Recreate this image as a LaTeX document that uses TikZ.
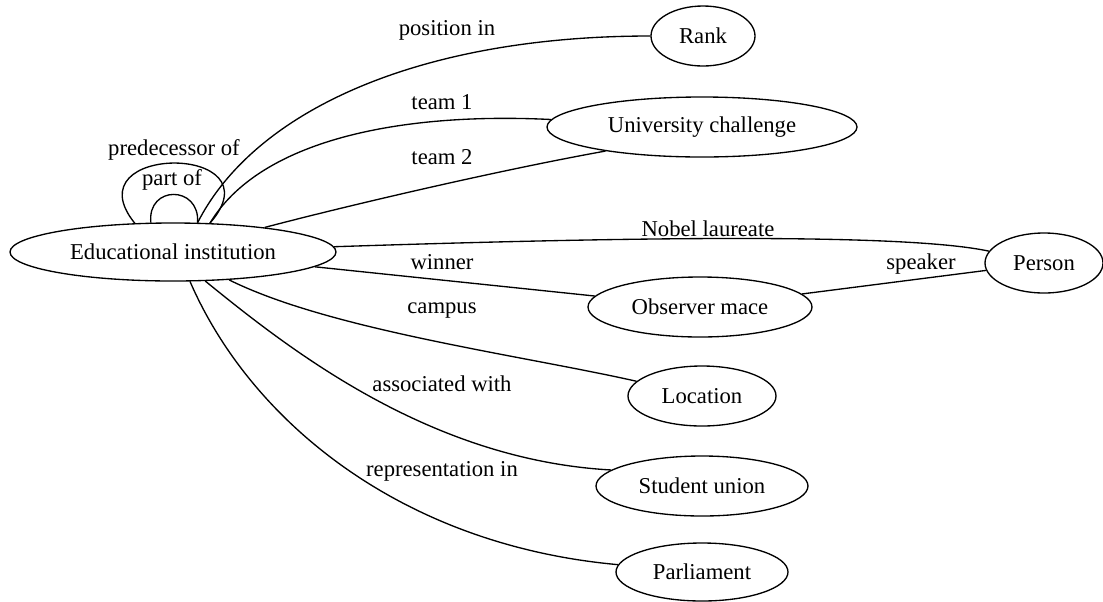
\documentclass[tikz,border=0pt]{standalone}
\usepackage{fontspec}
\setmainfont{Liberation Serif}
\usetikzlibrary{shapes.geometric}

\begin{document}
\begin{tikzpicture}[x=0.75pt, y=-0.75pt, line width=1pt,
        ent/.style={draw, ellipse, inner sep=0pt, font=\fontsize{17}{20}\selectfont},
        lbl/.style={font=\fontsize{17}{20}\selectfont, inner sep=1pt}]
        \useasboundingbox (0,0) rectangle (1103,601);
        
        % === Entita ===
        \node[ent, minimum width=244.5pt, minimum height=43.5pt] (edu) at (173,252) {Educational institution};
        \node[ent, minimum width=78pt, minimum height=45pt] (rank) at (703,36) {Rank};
        \node[ent, minimum width=232.5pt, minimum height=45pt] (uc) at (702,127) {University challenge};
        \node[ent, minimum width=88.5pt, minimum height=45pt] (person) at (1044,263) {Person};
        \node[ent, minimum width=168pt, minimum height=45pt] (mace) at (700,307) {Observer mace};
        \node[ent, minimum width=111pt, minimum height=45pt] (loc) at (702,396) {Location};
        \node[ent, minimum width=159pt, minimum height=45pt] (union) at (702,486) {Student union};
        \node[ent, minimum width=129pt, minimum height=43.5pt] (parl) at (702,572) {Parliament};
        
        % Anelli
        \draw (edu.143) .. controls (70,143) and (280,143) .. (edu.38);
        \draw (edu.127) .. controls (147,185) and (200,185) .. (edu.50);
        
        % Archi
        \draw (edu.50) .. controls (255,110) and (420,36) .. (rank);
        \draw (edu.38) .. controls (260,140) and (400,112) .. (uc);
        \draw (edu.15) .. controls (350,205) and (500,170) .. (uc.194);
        \draw (edu) .. controls (600,238) and (900,232) .. (person);
        \draw (edu) -- (mace);
        \draw (mace) -- (person);
        \draw (edu) .. controls (330,330) and (520,355) .. (loc);
        \draw (edu.318) .. controls (290,350) and (430,460) .. (union.170);
        \draw (edu.300) .. controls (250,420) and (400,545) .. (parl.175);
        
        % Etichette
        \node[lbl] (lpred) at (174,150) {predecessor of};
        \node[lbl] (lpart) at (172,180) {part of};
        \node[lbl] (lpos) at (447,30) {position in};
        \node[lbl] (lteam1) at (442,102) {team 1};
        \node[lbl] (lteam2) at (442,157) {team 2};
        \node[lbl] (lnobel) at (708,229) {Nobel laureate};
        \node[lbl] (lwin) at (442,262) {winner};
        \node[lbl] (lspeak) at (921,264) {speaker};
        \node[lbl] (lcamp) at (442,311) {campus};
        \node[lbl] (lassoc) at (442,384) {associated with};
        \node[lbl] (lrepr) at (442,471) {representation in};
        
    \end{tikzpicture}
\end{document}
